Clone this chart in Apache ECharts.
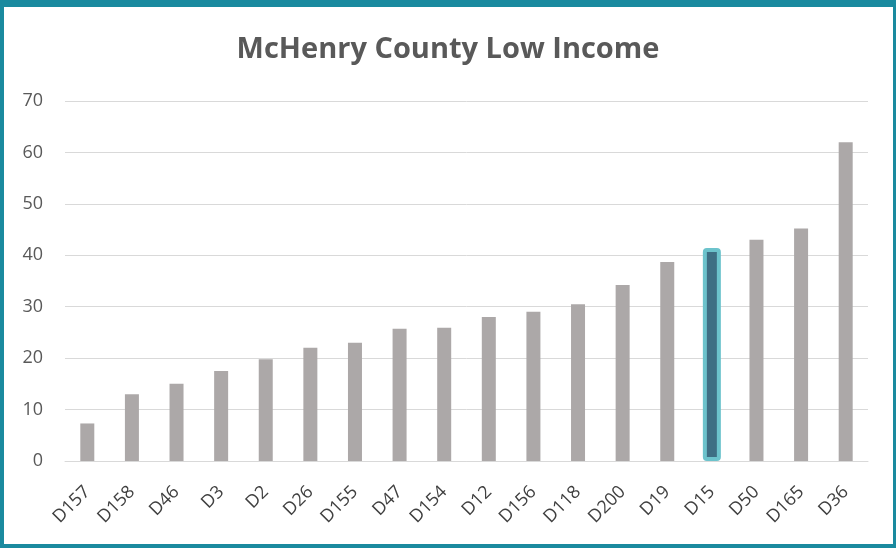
<!DOCTYPE html>
<html>
<head>
<meta charset="utf-8">
<script src="https://cdn.jsdelivr.net/npm/echarts@6/dist/echarts.min.js"></script>
<style>
  html, body { margin: 0; padding: 0; background: #ffffff; }
  #frame {
    position: absolute; left: 0; top: 0;
    width: 896px; height: 548px; box-sizing: border-box;
    border-style: solid; border-color: #1a8a9f;
    border-width: 7px 3px 4px 4px;
  }
  #chart { position: absolute; left: 0; top: 0; width: 896px; height: 548px; }
</style>
</head>
<body>
<div id="chart"></div>
<div id="frame"></div>
<script>
// School districts ordered by low-income share
const districts = ['D157','D158','D46','D3','D2','D26','D155','D47','D154','D12','D156','D118','D200','D19','D15','D50','D165','D36'];
const lowIncome = [7.3, 13.0, 15.0, 17.5, 19.8, 22.0, 23.0, 25.7, 25.9, 28.0, 29.0, 30.5, 34.2, 38.7, 41.4, 43.0, 45.2, 62.0];
const yTicks = [0, 10, 20, 30, 40, 50, 60, 70];
const focusDistrict = 'D15';

// Grey bars for every district except the focus one, which gets its own outlined bar
const baseData = lowIncome.map((v, i) => districts[i] === focusDistrict ? '-' : v);
const focusData = lowIncome.map((v, i) => districts[i] === focusDistrict ? v : '-');

const chart = echarts.init(document.getElementById('chart'), null, { renderer: 'canvas' });
chart.setOption({
  animation: false,
  backgroundColor: '#ffffff',
  title: {
    text: 'McHenry County Low Income',
    left: 'center', top: 30,
    textStyle: { fontFamily: 'Open Sans', fontWeight: 'bold', fontSize: 29, color: '#595959' }
  },
  grid: { left: 65, right: 28, top: 101, bottom: 87, containLabel: false },
  xAxis: [{
    type: 'category',
    data: districts,
    axisLine: { lineStyle: { color: '#d9d9d9', width: 1 } },
    axisTick: { show: false },
    axisLabel: {
      rotate: 45, interval: 0, margin: 28,
      fontFamily: 'Open Sans', fontSize: 18, color: '#404040'
    }
  }, {
    type: 'category',
    data: districts,
    position: 'bottom',
    show: false
  }],
  yAxis: {
    type: 'value',
    min: yTicks[0], max: yTicks[yTicks.length - 1], interval: 10,
    axisLine: { show: false },
    axisTick: { show: false },
    splitLine: { lineStyle: { color: '#d9d9d9', width: 1 } },
    axisLabel: { margin: 22, fontFamily: 'Open Sans', fontSize: 18, color: '#595959' }
  },
  series: [{
    type: 'bar',
    xAxisIndex: 0,
    data: baseData,
    barWidth: 14,
    itemStyle: { color: '#aca8a8' }
  }, {
    type: 'bar',
    xAxisIndex: 1,
    data: focusData,
    barWidth: 18,
    itemStyle: { color: '#3e6f84', borderColor: '#6cc3cc', borderWidth: 4, borderRadius: 2 }
  }]
});
</script>
</body>
</html>
